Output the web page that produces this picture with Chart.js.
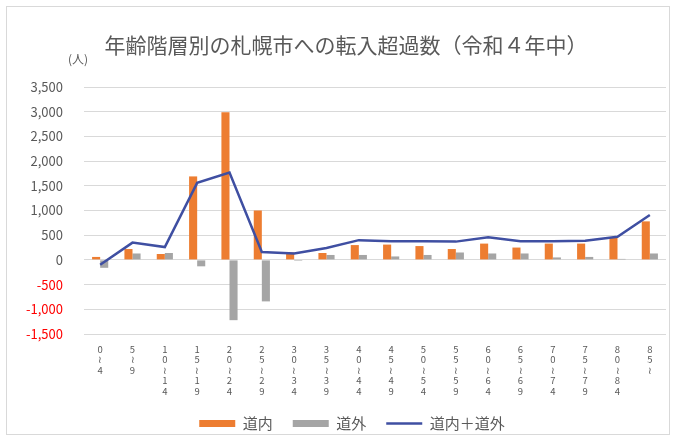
<!DOCTYPE html>
<html lang="ja">
<head>
<meta charset="utf-8">
<script src="https://cdn.jsdelivr.net/npm/chart.js@4.4.1/dist/chart.umd.min.js"></script>
<style>
  html, body { margin: 0; padding: 0; background: #ffffff; }
  #wrap { width: 676px; height: 441px; }
</style>
</head>
<body>
<div id="wrap"><canvas id="chart" width="676" height="441"></canvas></div>
<script>
// 年齢階層（縦書きラベル用に1文字ずつ配列化）
const ageGroups = [
  ["0", "≀", "4"],
  ["5", "≀", "9"],
  ["1", "0", "≀", "1", "4"],
  ["1", "5", "≀", "1", "9"],
  ["2", "0", "≀", "2", "4"],
  ["2", "5", "≀", "2", "9"],
  ["3", "0", "≀", "3", "4"],
  ["3", "5", "≀", "3", "9"],
  ["4", "0", "≀", "4", "4"],
  ["4", "5", "≀", "4", "9"],
  ["5", "0", "≀", "5", "4"],
  ["5", "5", "≀", "5", "9"],
  ["6", "0", "≀", "6", "4"],
  ["6", "5", "≀", "6", "9"],
  ["7", "0", "≀", "7", "4"],
  ["7", "5", "≀", "7", "9"],
  ["8", "0", "≀", "8", "4"],
  ["8", "5", "≀"]
];

// 転入超過数（人）
const withinHokkaido  = [60, 220, 120, 1690, 2990, 1000, 150, 140, 300, 310, 280, 220, 330, 250, 330, 330, 450, 780];
const outsideHokkaido = [-160, 130, 140, -130, -1220, -840, -20, 100, 100, 70, 100, 150, 130, 130, 50, 60, 20, 130];
const totalNet        = [-100, 350, 260, 1560, 1770, 160, 130, 240, 400, 380, 380, 370, 460, 380, 380, 390, 470, 910];

// 縦軸の目盛り
const yMin = -1500;
const yMax = 3500;
const yStep = 500;

const seriesNames = ["道内", "道外", "道内＋道外"];
const chartTitle = "年齢階層別の札幌市への転入超過数（令和４年中）";
const unitLabel = "(人)";

const ORANGE = "#ED7D31";
const GRAY = "#A5A5A5";
const NAVY = "#3F4FA2";
const TEXT = "#595959";
const FONT = "'Noto Sans CJK JP', 'Noto Sans', sans-serif";

// 外枠・タイトル・単位表示・凡例の位置調整
const framePlugin = {
  id: "frame",
  afterLayout(chart) {
    const lg = chart.legend;
    if (lg) {
      lg.left += 19; lg.right += 19;
    }
  },
  beforeDraw(chart) {
    const ctx = chart.ctx;
    ctx.save();
    ctx.fillStyle = "#ffffff";
    ctx.fillRect(0, 0, chart.width, chart.height);
    ctx.strokeStyle = "#D9D9D9";
    ctx.lineWidth = 1;
    ctx.strokeRect(6.5, 6.5, chart.width - 13, chart.height - 13);
    ctx.restore();
  },
  afterDraw(chart) {
    const ctx = chart.ctx;
    const y = chart.scales.y;
    ctx.save();
    ctx.fillStyle = TEXT;
    ctx.font = "21px " + FONT;
    ctx.textAlign = "center";
    ctx.textBaseline = "middle";
    ctx.fillText(chartTitle, chart.width / 2 + 8, 45);
    ctx.font = "12px " + FONT;
    ctx.textAlign = "right";
    ctx.fillText(unitLabel, y.right + 4, chart.chartArea.top - 28);
    ctx.restore();
  }
};

new Chart(document.getElementById("chart"), {
  data: {
    labels: ageGroups,
    datasets: [
      {
        type: "bar",
        label: seriesNames[0],
        data: withinHokkaido,
        backgroundColor: ORANGE,
        categoryPercentage: 0.5,
        barPercentage: 1.0,
        order: 1
      },
      {
        type: "bar",
        label: seriesNames[1],
        data: outsideHokkaido,
        backgroundColor: GRAY,
        categoryPercentage: 0.5,
        barPercentage: 1.0,
        order: 1
      },
      {
        type: "line",
        label: seriesNames[2],
        data: totalNet,
        borderColor: NAVY,
        backgroundColor: NAVY,
        borderWidth: 2.5,
        pointRadius: 0,
        tension: 0,
        order: 0
      }
    ]
  },
  plugins: [framePlugin],
  options: {
    responsive: false,
    devicePixelRatio: 1,
    animation: false,
    layout: { padding: { left: 0, right: 10, top: 87, bottom: 0 } },
    plugins: {
      title: { display: false },
      legend: {
        position: "bottom",
        labels: {
          color: TEXT,
          font: { family: FONT, size: 15 },
          usePointStyle: true,
          pointStyleWidth: 36,
          boxHeight: 7,
          padding: 20,
          generateLabels(chart) {
            const items = Chart.defaults.plugins.legend.labels.generateLabels(chart);
            items.sort((a, b) => a.datasetIndex - b.datasetIndex);
            items.forEach(it => {
              if (it.datasetIndex === 2) {
                it.pointStyle = "line";
                it.lineWidth = 2.5;
                it.strokeStyle = NAVY;
              } else {
                it.pointStyle = "rect";
                it.lineWidth = 0;
              }
            });
            return items;
          }
        }
      },
      tooltip: { enabled: false }
    },
    scales: {
      x: {
        grid: { display: false, drawTicks: false },
        border: { display: false },
        afterFit(scale) { scale.height = 62; },
        ticks: {
          color: TEXT,
          autoSkip: false,
          maxRotation: 0,
          minRotation: 0,
          padding: 10,
          font: { family: FONT, size: 9.5, lineHeight: 1.1 }
        }
      },
      y: {
        min: yMin,
        max: yMax,
        afterFit(scale) { scale.width = 84; },
        grid: { color: "#D9D9D9", drawTicks: false, lineWidth: 1 },
        border: { display: false },
        ticks: {
          stepSize: yStep,
          padding: 21,
          font: { family: FONT, size: 13 },
          color: ctx => (ctx.tick && ctx.tick.value < 0 ? "#FF0000" : TEXT),
          callback: v => v.toLocaleString("en-US")
        }
      }
    }
  }
});
</script>
</body>
</html>
